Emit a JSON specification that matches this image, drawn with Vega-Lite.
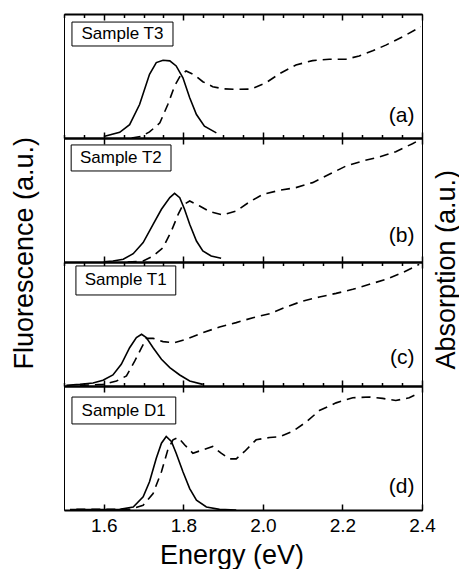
{
  "$schema": "https://vega.github.io/schema/vega-lite/v6.json",
  "padding": {"left": 9, "top": 12, "right": 0, "bottom": 0},
  "spacing": 0,
  "bounds": "flush",
  "config": {
    "view": {"stroke": "black", "strokeWidth": 1},
    "axis": {"grid": false, "domainColor": "black", "tickColor": "black", "labelColor": "black", "titleColor": "black", "labelFont": "Liberation Sans", "titleFont": "Liberation Sans", "titleFontWeight": "normal"}
  },
  "data": {"values": [
      {"panel":"a","series":"F","energy":1.600,"value":0.012},
      {"panel":"a","series":"F","energy":1.640,"value":0.046},
      {"panel":"a","series":"F","energy":1.665,"value":0.108},
      {"panel":"a","series":"F","energy":1.690,"value":0.27},
      {"panel":"a","series":"F","energy":1.715,"value":0.514},
      {"panel":"a","series":"F","energy":1.732,"value":0.608},
      {"panel":"a","series":"F","energy":1.749,"value":0.627},
      {"panel":"a","series":"F","energy":1.766,"value":0.622},
      {"panel":"a","series":"F","energy":1.782,"value":0.581},
      {"panel":"a","series":"F","energy":1.799,"value":0.486},
      {"panel":"a","series":"F","energy":1.816,"value":0.324},
      {"panel":"a","series":"F","energy":1.833,"value":0.189},
      {"panel":"a","series":"F","energy":1.853,"value":0.095},
      {"panel":"a","series":"F","energy":1.883,"value":0.041},
      {"panel":"a","series":"A","energy":1.670,"value":0.0},
      {"panel":"a","series":"A","energy":1.695,"value":0.014},
      {"panel":"a","series":"A","energy":1.715,"value":0.049},
      {"panel":"a","series":"A","energy":1.741,"value":0.122},
      {"panel":"a","series":"A","energy":1.761,"value":0.27},
      {"panel":"a","series":"A","energy":1.778,"value":0.419},
      {"panel":"a","series":"A","energy":1.792,"value":0.5},
      {"panel":"a","series":"A","energy":1.807,"value":0.541},
      {"panel":"a","series":"A","energy":1.828,"value":0.508},
      {"panel":"a","series":"A","energy":1.849,"value":0.454},
      {"panel":"a","series":"A","energy":1.874,"value":0.414},
      {"panel":"a","series":"A","energy":1.899,"value":0.397},
      {"panel":"a","series":"A","energy":1.933,"value":0.392},
      {"panel":"a","series":"A","energy":1.971,"value":0.395},
      {"panel":"a","series":"A","energy":2.008,"value":0.446},
      {"panel":"a","series":"A","energy":2.042,"value":0.519},
      {"panel":"a","series":"A","energy":2.083,"value":0.589},
      {"panel":"a","series":"A","energy":2.125,"value":0.624},
      {"panel":"a","series":"A","energy":2.167,"value":0.635},
      {"panel":"a","series":"A","energy":2.209,"value":0.635},
      {"panel":"a","series":"A","energy":2.242,"value":0.662},
      {"panel":"a","series":"A","energy":2.276,"value":0.703},
      {"panel":"a","series":"A","energy":2.309,"value":0.749},
      {"panel":"a","series":"A","energy":2.351,"value":0.816},
      {"panel":"a","series":"A","energy":2.397,"value":0.897},
      {"panel":"b","series":"F","energy":1.600,"value":0.002},
      {"panel":"b","series":"F","energy":1.623,"value":0.008},
      {"panel":"b","series":"F","energy":1.649,"value":0.022},
      {"panel":"b","series":"F","energy":1.674,"value":0.067},
      {"panel":"b","series":"F","energy":1.699,"value":0.156},
      {"panel":"b","series":"F","energy":1.724,"value":0.304},
      {"panel":"b","series":"F","energy":1.745,"value":0.425},
      {"panel":"b","series":"F","energy":1.766,"value":0.519},
      {"panel":"b","series":"F","energy":1.778,"value":0.554},
      {"panel":"b","series":"F","energy":1.791,"value":0.519},
      {"panel":"b","series":"F","energy":1.803,"value":0.425},
      {"panel":"b","series":"F","energy":1.816,"value":0.304},
      {"panel":"b","series":"F","energy":1.833,"value":0.169},
      {"panel":"b","series":"F","energy":1.849,"value":0.089},
      {"panel":"b","series":"F","energy":1.870,"value":0.048},
      {"panel":"b","series":"F","energy":1.895,"value":0.030},
      {"panel":"b","series":"A","energy":1.660,"value":0.0},
      {"panel":"b","series":"A","energy":1.699,"value":0.008},
      {"panel":"b","series":"A","energy":1.724,"value":0.048},
      {"panel":"b","series":"A","energy":1.749,"value":0.116},
      {"panel":"b","series":"A","energy":1.770,"value":0.25},
      {"panel":"b","series":"A","energy":1.787,"value":0.384},
      {"panel":"b","series":"A","energy":1.799,"value":0.46},
      {"panel":"b","series":"A","energy":1.816,"value":0.492},
      {"panel":"b","series":"A","energy":1.841,"value":0.452},
      {"panel":"b","series":"A","energy":1.866,"value":0.406},
      {"panel":"b","series":"A","energy":1.899,"value":0.379},
      {"panel":"b","series":"A","energy":1.933,"value":0.411},
      {"panel":"b","series":"A","energy":1.966,"value":0.484},
      {"panel":"b","series":"A","energy":2.000,"value":0.546},
      {"panel":"b","series":"A","energy":2.042,"value":0.578},
      {"panel":"b","series":"A","energy":2.083,"value":0.6},
      {"panel":"b","series":"A","energy":2.125,"value":0.64},
      {"panel":"b","series":"A","energy":2.167,"value":0.707},
      {"panel":"b","series":"A","energy":2.209,"value":0.774},
      {"panel":"b","series":"A","energy":2.251,"value":0.815},
      {"panel":"b","series":"A","energy":2.293,"value":0.847},
      {"panel":"b","series":"A","energy":2.334,"value":0.89},
      {"panel":"b","series":"A","energy":2.376,"value":0.954},
      {"panel":"b","series":"A","energy":2.397,"value":0.989},
      {"panel":"c","series":"F","energy":1.506,"value":0.005},
      {"panel":"c","series":"F","energy":1.540,"value":0.013},
      {"panel":"c","series":"F","energy":1.573,"value":0.024},
      {"panel":"c","series":"F","energy":1.598,"value":0.046},
      {"panel":"c","series":"F","energy":1.623,"value":0.089},
      {"panel":"c","series":"F","energy":1.644,"value":0.175},
      {"panel":"c","series":"F","energy":1.665,"value":0.309},
      {"panel":"c","series":"F","energy":1.682,"value":0.39},
      {"panel":"c","series":"F","energy":1.695,"value":0.417},
      {"panel":"c","series":"F","energy":1.707,"value":0.39},
      {"panel":"c","series":"F","energy":1.724,"value":0.309},
      {"panel":"c","series":"F","energy":1.745,"value":0.215},
      {"panel":"c","series":"F","energy":1.766,"value":0.148},
      {"panel":"c","series":"F","energy":1.791,"value":0.089},
      {"panel":"c","series":"F","energy":1.816,"value":0.04},
      {"panel":"c","series":"F","energy":1.849,"value":0.013},
      {"panel":"c","series":"A","energy":1.540,"value":0.005},
      {"panel":"c","series":"A","energy":1.598,"value":0.013},
      {"panel":"c","series":"A","energy":1.632,"value":0.04},
      {"panel":"c","series":"A","energy":1.657,"value":0.081},
      {"panel":"c","series":"A","energy":1.678,"value":0.202},
      {"panel":"c","series":"A","energy":1.695,"value":0.309},
      {"panel":"c","series":"A","energy":1.707,"value":0.384},
      {"panel":"c","series":"A","energy":1.724,"value":0.384},
      {"panel":"c","series":"A","energy":1.749,"value":0.358},
      {"panel":"c","series":"A","energy":1.778,"value":0.349},
      {"panel":"c","series":"A","energy":1.807,"value":0.376},
      {"panel":"c","series":"A","energy":1.849,"value":0.43},
      {"panel":"c","series":"A","energy":1.891,"value":0.476},
      {"panel":"c","series":"A","energy":1.933,"value":0.511},
      {"panel":"c","series":"A","energy":1.975,"value":0.551},
      {"panel":"c","series":"A","energy":2.017,"value":0.583},
      {"panel":"c","series":"A","energy":2.058,"value":0.637},
      {"panel":"c","series":"A","energy":2.100,"value":0.685},
      {"panel":"c","series":"A","energy":2.142,"value":0.718},
      {"panel":"c","series":"A","energy":2.184,"value":0.747},
      {"panel":"c","series":"A","energy":2.226,"value":0.78},
      {"panel":"c","series":"A","energy":2.268,"value":0.82},
      {"panel":"c","series":"A","energy":2.309,"value":0.86},
      {"panel":"c","series":"A","energy":2.351,"value":0.914},
      {"panel":"c","series":"A","energy":2.393,"value":0.981},
      {"panel":"d","series":"F","energy":1.515,"value":0.003},
      {"panel":"d","series":"F","energy":1.640,"value":0.005},
      {"panel":"d","series":"F","energy":1.674,"value":0.024},
      {"panel":"d","series":"F","energy":1.699,"value":0.106},
      {"panel":"d","series":"F","energy":1.715,"value":0.228},
      {"panel":"d","series":"F","energy":1.732,"value":0.417},
      {"panel":"d","series":"F","energy":1.745,"value":0.539},
      {"panel":"d","series":"F","energy":1.757,"value":0.593},
      {"panel":"d","series":"F","energy":1.770,"value":0.553},
      {"panel":"d","series":"F","energy":1.782,"value":0.458},
      {"panel":"d","series":"F","energy":1.799,"value":0.309},
      {"panel":"d","series":"F","energy":1.816,"value":0.173},
      {"panel":"d","series":"F","energy":1.833,"value":0.079},
      {"panel":"d","series":"F","energy":1.858,"value":0.024},
      {"panel":"d","series":"F","energy":1.891,"value":0.005},
      {"panel":"d","series":"F","energy":1.933,"value":0.0},
      {"panel":"d","series":"A","energy":1.531,"value":0.005},
      {"panel":"d","series":"A","energy":1.665,"value":0.005},
      {"panel":"d","series":"A","energy":1.699,"value":0.038},
      {"panel":"d","series":"A","energy":1.724,"value":0.133},
      {"panel":"d","series":"A","energy":1.745,"value":0.309},
      {"panel":"d","series":"A","energy":1.761,"value":0.485},
      {"panel":"d","series":"A","energy":1.774,"value":0.566},
      {"panel":"d","series":"A","energy":1.787,"value":0.585},
      {"panel":"d","series":"A","energy":1.803,"value":0.526},
      {"panel":"d","series":"A","energy":1.824,"value":0.458},
      {"panel":"d","series":"A","energy":1.849,"value":0.485},
      {"panel":"d","series":"A","energy":1.874,"value":0.512},
      {"panel":"d","series":"A","energy":1.895,"value":0.458},
      {"panel":"d","series":"A","energy":1.916,"value":0.412},
      {"panel":"d","series":"A","energy":1.933,"value":0.412},
      {"panel":"d","series":"A","energy":1.954,"value":0.472},
      {"panel":"d","series":"A","energy":1.983,"value":0.566},
      {"panel":"d","series":"A","energy":2.017,"value":0.585},
      {"panel":"d","series":"A","energy":2.042,"value":0.591},
      {"panel":"d","series":"A","energy":2.075,"value":0.634},
      {"panel":"d","series":"A","energy":2.109,"value":0.71},
      {"panel":"d","series":"A","energy":2.142,"value":0.802},
      {"panel":"d","series":"A","energy":2.184,"value":0.864},
      {"panel":"d","series":"A","energy":2.226,"value":0.905},
      {"panel":"d","series":"A","energy":2.268,"value":0.911},
      {"panel":"d","series":"A","energy":2.301,"value":0.9},
      {"panel":"d","series":"A","energy":2.334,"value":0.883},
      {"panel":"d","series":"A","energy":2.368,"value":0.905},
      {"panel":"d","series":"A","energy":2.393,"value":0.946},
      {"panel":"a","series":"label","sample":"Sample T3","tag":"(a)"},
      {"panel":"b","series":"label","sample":"Sample T2","tag":"(b)"},
      {"panel":"c","series":"label","sample":"Sample T1","tag":"(c)"},
      {"panel":"d","series":"label","sample":"Sample D1","tag":"(d)"}
  ]},
  "vconcat": [
    {
      "width": 358, "height": 124,
      "layer": [
        {"transform": [{"filter": "datum.panel == 'a' && datum.series == 'F'"}],
         "mark": {"type": "line", "color": "black", "strokeWidth": 1.6},
         "encoding": {
           "x": {"field": "energy", "type": "quantitative", "scale": {"domain": [1.5, 2.4], "nice": false},
                 "axis": {"orient": "bottom", "values": [1.6,1.8,2.0,2.2,2.4], "tickSize": -6, "tickWidth": 1.5, "labels": false, "title": null, "domainWidth": 2}},
           "y": {"field": "value", "type": "quantitative", "scale": {"domain": [0, 1], "nice": false}, "axis": null}}},
        {"transform": [{"filter": "datum.panel == 'a' && datum.series == 'A'"}],
         "mark": {"type": "line", "color": "black", "strokeWidth": 1.6, "strokeDash": [9, 6]},
         "encoding": {
           "x": {"field": "energy", "type": "quantitative",
                 "axis": {"orient": "top", "values": [1.6,1.8,2.0,2.2,2.4], "tickSize": -6, "tickWidth": 1.5, "labels": false, "title": null, "domainWidth": 2}},
           "y": {"field": "value", "type": "quantitative", "axis": null}}},
        {"transform": [{"filter": "datum.panel == 'a' && datum.series == 'label'"}],
         "mark": {"type": "rect", "fill": "white", "stroke": "black", "strokeWidth": 1},
         "encoding": {"x": {"datum": 1.520, "type": "quantitative",
                            "axis": {"orient": "bottom", "values": [1.5,1.55,1.65,1.7,1.75,1.85,1.9,1.95,2.05,2.1,2.15,2.25,2.3,2.35], "tickSize": -3.5, "tickWidth": 1.5, "labels": false, "domain": false, "title": null}},
                      "x2": {"datum": 1.774},
                      "y": {"datum": 0.935, "type": "quantitative", "axis": null}, "y2": {"datum": 0.742}}},
        {"transform": [{"filter": "datum.panel == 'a' && datum.series == 'label'"}],
         "mark": {"type": "text", "font": "Liberation Sans", "fontSize": 17, "align": "center", "baseline": "middle", "color": "black"},
         "encoding": {"x": {"datum": 1.647, "type": "quantitative",
                            "axis": {"orient": "top", "values": [1.5,1.55,1.65,1.7,1.75,1.85,1.9,1.95,2.05,2.1,2.15,2.25,2.3,2.35], "tickSize": -3.5, "tickWidth": 1.5, "labels": false, "domain": false, "title": null}},
                      "y": {"datum": 0.839, "type": "quantitative", "axis": null}, "text": {"field": "sample"}}},
        {"transform": [{"filter": "datum.panel == 'a' && datum.series == 'label'"}],
         "mark": {"type": "text", "font": "Liberation Sans", "fontSize": 21, "align": "right", "baseline": "alphabetic", "color": "black"},
         "encoding": {"x": {"datum": 2.381, "type": "quantitative", "axis": null}, "y": {"datum": 0.132, "type": "quantitative", "axis": null}, "text": {"field": "tag"}}}
      ],
      "resolve": {"axis": {"x": "independent", "y": "independent"}}
    },
    {
      "width": 358, "height": 124,
      "layer": [
        {"transform": [{"filter": "datum.panel == 'b' && datum.series == 'F'"}],
         "mark": {"type": "line", "color": "black", "strokeWidth": 1.6},
         "encoding": {
           "x": {"field": "energy", "type": "quantitative", "scale": {"domain": [1.5, 2.4], "nice": false},
                 "axis": {"orient": "bottom", "values": [1.6,1.8,2.0,2.2,2.4], "tickSize": -6, "tickWidth": 1.5, "labels": false, "title": null, "domainWidth": 2}},
           "y": {"field": "value", "type": "quantitative", "scale": {"domain": [0, 1], "nice": false}, "axis": null}}},
        {"transform": [{"filter": "datum.panel == 'b' && datum.series == 'A'"}],
         "mark": {"type": "line", "color": "black", "strokeWidth": 1.6, "strokeDash": [9, 6]},
         "encoding": {
           "x": {"field": "energy", "type": "quantitative",
                 "axis": {"orient": "top", "values": [1.6,1.8,2.0,2.2,2.4], "tickSize": -6, "tickWidth": 1.5, "labels": false, "title": null, "domainWidth": 2}},
           "y": {"field": "value", "type": "quantitative", "axis": null}}},
        {"transform": [{"filter": "datum.panel == 'b' && datum.series == 'label'"}],
         "mark": {"type": "rect", "fill": "white", "stroke": "black", "strokeWidth": 1},
         "encoding": {"x": {"datum": 1.518, "type": "quantitative", "axis": null},
                      "x2": {"datum": 1.769},
                      "y": {"datum": 0.944, "type": "quantitative", "axis": null}, "y2": {"datum": 0.734}}},
        {"transform": [{"filter": "datum.panel == 'b' && datum.series == 'label'"}],
         "mark": {"type": "text", "font": "Liberation Sans", "fontSize": 17, "align": "center", "baseline": "middle", "color": "black"},
         "encoding": {"x": {"datum": 1.643, "type": "quantitative", "axis": null},
                      "y": {"datum": 0.839, "type": "quantitative", "axis": null}, "text": {"field": "sample"}}},
        {"transform": [{"filter": "datum.panel == 'b' && datum.series == 'label'"}],
         "mark": {"type": "text", "font": "Liberation Sans", "fontSize": 21, "align": "right", "baseline": "alphabetic", "color": "black"},
         "encoding": {"x": {"datum": 2.381, "type": "quantitative", "axis": null}, "y": {"datum": 0.165, "type": "quantitative", "axis": null}, "text": {"field": "tag"}}}
      ],
      "resolve": {"axis": {"x": "independent", "y": "independent"}}
    },
    {
      "width": 358, "height": 124,
      "layer": [
        {"transform": [{"filter": "datum.panel == 'c' && datum.series == 'F'"}],
         "mark": {"type": "line", "color": "black", "strokeWidth": 1.6},
         "encoding": {
           "x": {"field": "energy", "type": "quantitative", "scale": {"domain": [1.5, 2.4], "nice": false},
                 "axis": {"orient": "bottom", "values": [1.5,1.55,1.6,1.65,1.7,1.75,1.8,1.85,1.9,1.95,2.0,2.05,2.1,2.15,2.2,2.25,2.3,2.35,2.4], "tickSize": -6, "tickWidth": 1.5, "tickDash": {"condition": {"test": "abs(datum.value*5-round(datum.value*5))<0.001", "value": [10, 0]}, "value": [3.5, 20]}, "labels": false, "title": null, "domainWidth": 2}},
           "y": {"field": "value", "type": "quantitative", "scale": {"domain": [0, 1], "nice": false},
                 "axis": {"orient": "left", "title": "Fluorescence (a.u.)", "ticks": false, "labels": false, "domain": false, "titleFontSize": 27, "titlePadding": 26, "titleY": 107, "titleAlign": "left", "titleAngle": -90}}}},
        {"transform": [{"filter": "datum.panel == 'c' && datum.series == 'A'"}],
         "mark": {"type": "line", "color": "black", "strokeWidth": 1.6, "strokeDash": [9, 6]},
         "encoding": {
           "x": {"field": "energy", "type": "quantitative",
                 "axis": {"orient": "top", "values": [1.5,1.55,1.6,1.65,1.7,1.75,1.8,1.85,1.9,1.95,2.0,2.05,2.1,2.15,2.2,2.25,2.3,2.35,2.4], "tickSize": -6, "tickWidth": 1.5, "tickDash": {"condition": {"test": "abs(datum.value*5-round(datum.value*5))<0.001", "value": [10, 0]}, "value": [3.5, 20]}, "labels": false, "title": null, "domainWidth": 2}},
           "y": {"field": "value", "type": "quantitative",
                 "axis": {"orient": "right", "title": "Absorption (a.u.)", "ticks": false, "labels": false, "domain": false, "titleFontSize": 27, "titlePadding": 11, "titleY": 107, "titleAlign": "left", "titleAngle": -90, "titleBaseline": "top"}}}},
        {"transform": [{"filter": "datum.panel == 'c' && datum.series == 'label'"}],
         "mark": {"type": "rect", "fill": "white", "stroke": "black", "strokeWidth": 1},
         "encoding": {"x": {"datum": 1.530, "type": "quantitative", "axis": null},
                      "x2": {"datum": 1.781},
                      "y": {"datum": 0.968, "type": "quantitative", "axis": null}, "y2": {"datum": 0.734}}},
        {"transform": [{"filter": "datum.panel == 'c' && datum.series == 'label'"}],
         "mark": {"type": "text", "font": "Liberation Sans", "fontSize": 17, "align": "center", "baseline": "middle", "color": "black"},
         "encoding": {"x": {"datum": 1.655, "type": "quantitative", "axis": null},
                      "y": {"datum": 0.851, "type": "quantitative", "axis": null}, "text": {"field": "sample"}}},
        {"transform": [{"filter": "datum.panel == 'c' && datum.series == 'label'"}],
         "mark": {"type": "text", "font": "Liberation Sans", "fontSize": 21, "align": "right", "baseline": "alphabetic", "color": "black"},
         "encoding": {"x": {"datum": 2.381, "type": "quantitative", "axis": null}, "y": {"datum": 0.177, "type": "quantitative", "axis": null}, "text": {"field": "tag"}}}
      ],
      "resolve": {"axis": {"x": "independent", "y": "independent"}}
    },
    {
      "width": 358, "height": 124,
      "layer": [
        {"transform": [{"filter": "datum.panel == 'd' && datum.series == 'F'"}],
         "mark": {"type": "line", "color": "black", "strokeWidth": 1.6},
         "encoding": {
           "x": {"field": "energy", "type": "quantitative", "scale": {"domain": [1.5, 2.4], "nice": false},
                 "axis": {"orient": "bottom", "values": [1.6,1.8,2.0,2.2,2.4], "tickSize": -6, "tickWidth": 1.5, "format": ".1f", "labelFontSize": 19, "labelPadding": 12, "labelOverlap": false, "labelFlush": false, "title": "Energy (eV)", "titleFontSize": 27, "titlePadding": 7, "titleX": 167.5, "domainWidth": 2}},
           "y": {"field": "value", "type": "quantitative", "scale": {"domain": [0, 1], "nice": false}, "axis": null}}},
        {"transform": [{"filter": "datum.panel == 'd' && datum.series == 'A'"}],
         "mark": {"type": "line", "color": "black", "strokeWidth": 1.6, "strokeDash": [9, 6]},
         "encoding": {
           "x": {"field": "energy", "type": "quantitative",
                 "axis": {"orient": "top", "values": [1.6,1.8,2.0,2.2,2.4], "tickSize": -6, "tickWidth": 1.5, "labels": false, "title": null, "domainWidth": 2}},
           "y": {"field": "value", "type": "quantitative", "axis": null}}},
        {"transform": [{"filter": "datum.panel == 'd' && datum.series == 'label'"}],
         "mark": {"type": "rect", "fill": "white", "stroke": "black", "strokeWidth": 1},
         "encoding": {"x": {"datum": 1.520, "type": "quantitative", "axis": null},
                      "x2": {"datum": 1.781},
                      "y": {"datum": 0.911, "type": "quantitative", "axis": null}, "y2": {"datum": 0.694}}},
        {"transform": [{"filter": "datum.panel == 'd' && datum.series == 'label'"}],
         "mark": {"type": "text", "font": "Liberation Sans", "fontSize": 17, "align": "center", "baseline": "middle", "color": "black"},
         "encoding": {"x": {"datum": 1.650, "type": "quantitative", "axis": null},
                      "y": {"datum": 0.802, "type": "quantitative", "axis": null}, "text": {"field": "sample"}}},
        {"transform": [{"filter": "datum.panel == 'd' && datum.series == 'label'"}],
         "mark": {"type": "text", "font": "Liberation Sans", "fontSize": 21, "align": "right", "baseline": "alphabetic", "color": "black"},
         "encoding": {"x": {"datum": 2.381, "type": "quantitative", "axis": null}, "y": {"datum": 0.14, "type": "quantitative", "axis": null}, "text": {"field": "tag"}}}
      ],
      "resolve": {"axis": {"x": "independent", "y": "independent"}}
    }
  ]
}
